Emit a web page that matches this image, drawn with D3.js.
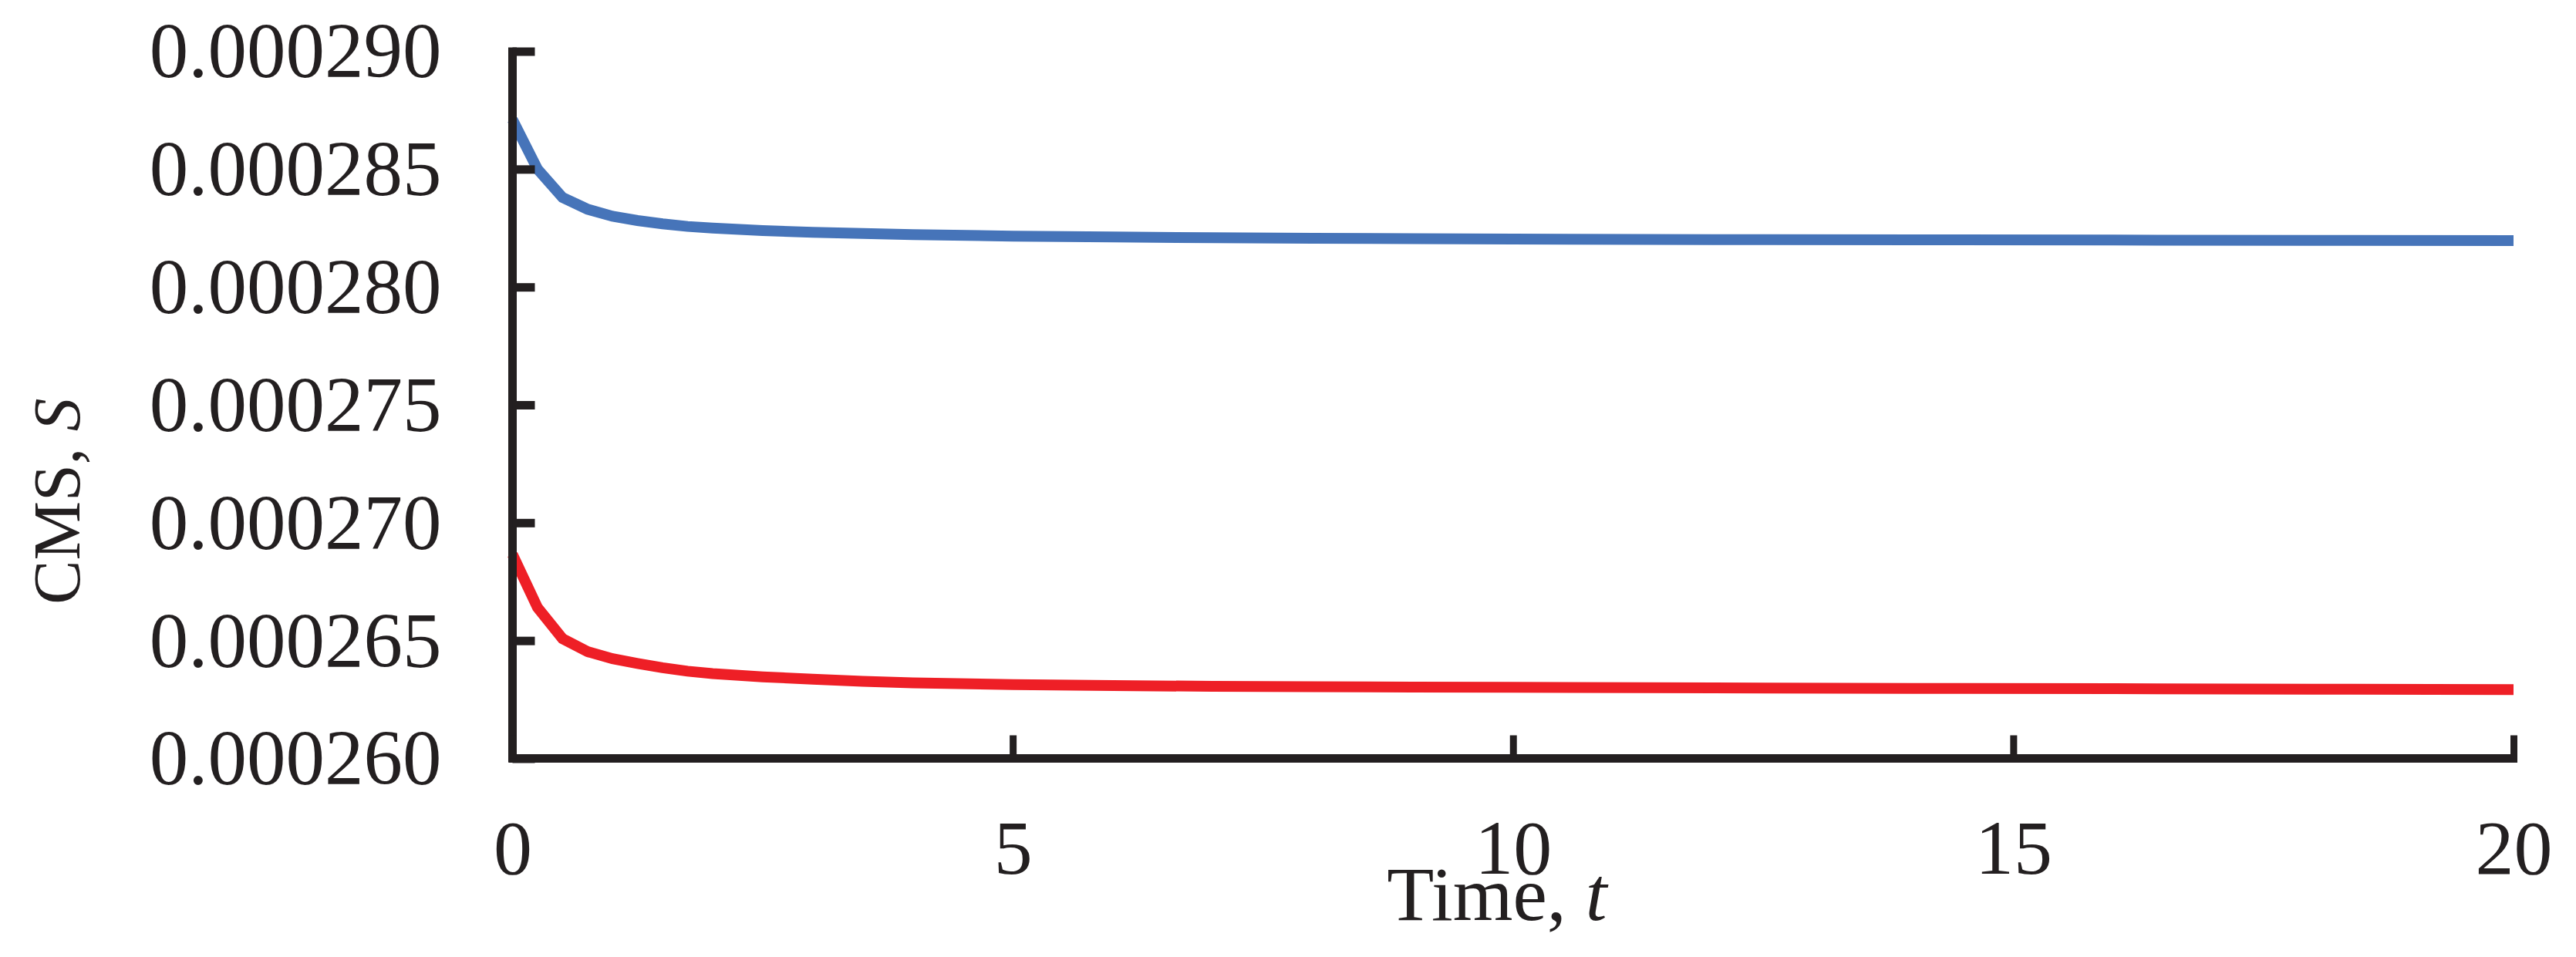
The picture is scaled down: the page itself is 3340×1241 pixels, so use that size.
<!DOCTYPE html>
<html>
<head>
<meta charset="utf-8">
<script src="https://cdn.jsdelivr.net/npm/d3@7"></script>
<style>
  body { margin: 0; background: #fff; }
  svg { display: block; }
</style>
</head>
<body>
<svg width="3340" height="1241"></svg>
<script>
var svg = d3.select('svg');

// time points (x) and the two CMS series
var times = [0, 0.25, 0.5, 0.75, 1, 1.25, 1.5, 1.75, 2, 2.5, 3, 3.5, 4,
  5, 6, 7, 8, 9, 10, 12, 14, 16, 18, 20];

var cms_blue = [0.0002871, 0.0002850, 0.0002838, 0.0002833, 0.0002830,
  0.00028282, 0.00028268, 0.00028257, 0.0002825, 0.00028239, 0.00028232,
  0.00028227, 0.00028222, 0.00028216, 0.00028212, 0.00028209, 0.00028207,
  0.00028205, 0.00028203, 0.00028201, 0.00028200, 0.00028199, 0.00028198,
  0.00028197];

var cms_red = [0.00026865, 0.00026640, 0.00026508, 0.00026453, 0.00026423,
  0.00026403, 0.00026385, 0.00026370, 0.00026360, 0.00026346, 0.00026336,
  0.00026327, 0.00026321, 0.00026313, 0.00026309, 0.00026306, 0.00026304,
  0.00026303, 0.00026302, 0.00026299, 0.00026297, 0.00026296, 0.00026294,
  0.00026292];

var x_ticks = [0, 5, 10, 15, 20];
var y_ticks = [0.000260, 0.000265, 0.000270, 0.000275, 0.000280, 0.000285, 0.000290];

var series = [
  { values: cms_blue, color: '#4674b9' },
  { values: cms_red, color: '#ee1f26' }
];

var axis_color = '#231f20';
var font = '"Liberation Serif", "Times New Roman", serif';

// plot area (don't use "top" as a name, window.top is read only)
var plot_left = 664.5, plot_right = 3259, plot_top = 66.5, plot_bottom = 983.5;

var x = d3.scaleLinear().domain([0, 20]).range([plot_left, plot_right]);
var y = d3.scaleLinear().domain([0.000260, 0.000290]).range([plot_bottom, plot_top]);

// curves
var line = d3.line()
  .x(function(d) { return x(d[0]); })
  .y(function(d) { return y(d[1]); });

svg.selectAll('.cms-line')
  .data(series)
  .enter()
  .append('path')
  .attr('class', 'cms-line')
  .attr('fill', 'none')
  .attr('stroke', function(d) { return d.color; })
  .attr('stroke-width', 14)
  .attr('d', function(d) {
    return line(times.map(function(t, i) { return [t, d.values[i]]; }));
  });

// y axis, ticks pointing inward
var y_axis = svg.append('g')
  .attr('transform', 'translate(' + plot_left + ',0)')
  .call(d3.axisLeft(y)
    .tickValues(y_ticks)
    .tickFormat(d3.format('.6f'))
    .tickSizeInner(-29)
    .tickSizeOuter(0)
    .tickPadding(92));

y_axis.select('.domain')
  .attr('stroke', axis_color)
  .attr('stroke-width', 11)
  .attr('d', 'M0,' + (plot_bottom + 5) + 'V' + (plot_top - 5));

y_axis.selectAll('.tick line')
  .attr('stroke', axis_color)
  .attr('stroke-width', 11);

y_axis.selectAll('.tick text')
  .attr('fill', axis_color)
  .attr('dy', '0.33em')
  .style('font-family', font)
  .style('font-size', '101px');

// x axis
var x_axis = svg.append('g')
  .attr('transform', 'translate(0,' + plot_bottom + ')')
  .call(d3.axisBottom(x)
    .tickValues(x_ticks)
    .tickFormat(d3.format('d'))
    .tickSizeInner(-30)
    .tickSizeOuter(0)
    .tickPadding(78));

x_axis.select('.domain')
  .attr('stroke', axis_color)
  .attr('stroke-width', 11)
  .attr('d', 'M' + (plot_left - 5) + ',0H' + (plot_right + 5));

x_axis.selectAll('.tick line')
  .attr('stroke', axis_color)
  .attr('stroke-width', 9);

x_axis.selectAll('.tick text')
  .attr('fill', axis_color)
  .style('font-family', font)
  .style('font-size', '100px');

// axis titles
var x_title = svg.append('text')
  .attr('x', 1941)
  .attr('y', 1193)
  .attr('text-anchor', 'middle')
  .attr('fill', axis_color)
  .style('font-family', font)
  .style('font-size', '100px');
x_title.append('tspan').text('Time, ');
x_title.append('tspan').style('font-style', 'italic').text('t');

var y_title = svg.append('text')
  .attr('transform', 'translate(103,650) rotate(-90)')
  .attr('text-anchor', 'middle')
  .attr('fill', axis_color)
  .style('font-family', font)
  .style('font-size', '86px');
y_title.append('tspan').text('CMS, ');
y_title.append('tspan').style('font-style', 'italic').text('S');
</script>
</body>
</html>
